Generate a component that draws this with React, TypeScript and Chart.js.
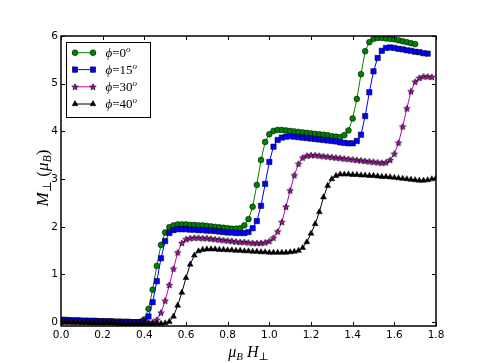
import React, { useEffect, useRef } from 'react';
import { Chart, registerables } from 'chart.js';

Chart.register(...registerables);

// ---------- data ----------
const fieldValues = [
  0, 0.02, 0.04, 0.06, 0.08, 0.1, 0.12, 0.14, 0.16, 0.18,
  0.2, 0.22, 0.24, 0.26, 0.28, 0.3, 0.32, 0.34, 0.36, 0.38,
  0.4, 0.42, 0.44, 0.46, 0.48, 0.5, 0.52, 0.54, 0.56, 0.58,
  0.6, 0.62, 0.64, 0.66, 0.68, 0.7, 0.72, 0.74, 0.76, 0.78,
  0.8, 0.82, 0.84, 0.86, 0.88, 0.9, 0.92, 0.94, 0.96, 0.98,
  1.0, 1.02, 1.04, 1.06, 1.08, 1.1, 1.12, 1.14, 1.16, 1.18,
  1.2, 1.22, 1.24, 1.26, 1.28, 1.3, 1.32, 1.34, 1.36, 1.38,
  1.4, 1.42, 1.44, 1.46, 1.48, 1.5, 1.52, 1.54, 1.56, 1.58,
  1.6, 1.62, 1.64, 1.66, 1.68, 1.7, 1.72, 1.74, 1.76, 1.78,
  1.8,
];

const phi0 = [
  0.04, 0.04, 0.04, 0.03, 0.03, 0.03, 0.03, 0.02, 0.02, 0.02,
  0.02, 0.01, 0.01, 0.01, 0.01, 0.0, 0.0, 0.0, 0.0, 0.01,
  0.06, 0.28, 0.68, 1.18, 1.62, 1.88, 1.99, 2.03, 2.05, 2.05,
  2.05, 2.04, 2.04, 2.03, 2.03, 2.02, 2.01, 2.0, 1.99, 1.98,
  1.97, 1.96, 1.96, 1.97, 2.03, 2.16, 2.42, 2.88, 3.4, 3.78,
  3.94, 4.01, 4.03, 4.03, 4.02, 4.01, 4.0, 3.99, 3.98, 3.97,
  3.96, 3.95, 3.94, 3.93, 3.92, 3.9, 3.89, 3.88, 3.92, 4.02,
  4.27, 4.68, 5.2, 5.68, 5.87, 5.94, 5.96, 5.96, 5.95, 5.94,
  5.93, 5.91, 5.89, 5.87, 5.85, 5.83, null, null, null, null,
  null,
];

const phi15 = [
  0.05, 0.05, 0.04, 0.04, 0.04, 0.03, 0.03, 0.03, 0.03, 0.02,
  0.02, 0.02, 0.02, 0.01, 0.01, 0.01, 0.01, 0.0, 0.0, 0.0,
  0.02, 0.12, 0.42, 0.86, 1.34, 1.7, 1.87, 1.93, 1.95, 1.95,
  1.95, 1.94, 1.94, 1.93, 1.93, 1.92, 1.92, 1.91, 1.9, 1.89,
  1.88, 1.88, 1.87, 1.87, 1.87, 1.89, 1.97, 2.12, 2.44, 2.9,
  3.36, 3.68, 3.82, 3.87, 3.89, 3.9, 3.89, 3.88, 3.87, 3.86,
  3.85, 3.84, 3.83, 3.82, 3.81, 3.8, 3.79, 3.77, 3.76, 3.75,
  3.75, 3.8, 3.93, 4.32, 4.82, 5.26, 5.54, 5.69, 5.75, 5.76,
  5.75, 5.73, 5.72, 5.7, 5.69, 5.67, 5.66, 5.64, 5.63, null,
  null,
];

const phi30 = [
  0.02, 0.02, 0.02, 0.01, 0.01, 0.01, 0.01, 0.01, 0.0, 0.0,
  0.0, 0.0, 0.0, -0.01, -0.01, -0.01, -0.01, -0.01, -0.01, -0.01,
  -0.01, -0.01, 0.0, 0.05, 0.2, 0.45, 0.78, 1.12, 1.46, 1.66,
  1.74, 1.76, 1.77, 1.77, 1.76, 1.76, 1.75, 1.74, 1.73, 1.72,
  1.71, 1.7, 1.69, 1.68, 1.68, 1.67, 1.66, 1.66, 1.66, 1.67,
  1.7, 1.77, 1.9, 2.1, 2.42, 2.76, 3.08, 3.32, 3.45, 3.49,
  3.5, 3.5, 3.49, 3.48, 3.47, 3.46, 3.45, 3.44, 3.43, 3.42,
  3.41, 3.4, 3.39, 3.38, 3.37, 3.36, 3.35, 3.34, 3.35, 3.4,
  3.53, 3.76, 4.1, 4.48, 4.84, 5.04, 5.12, 5.15, 5.15, 5.14,
  null,
];

const phi40 = [
  -0.01, -0.01, -0.01, -0.01, -0.01, -0.02, -0.02, -0.02, -0.02, -0.02,
  -0.02, -0.02, -0.02, -0.02, -0.03, -0.03, -0.03, -0.03, -0.03, -0.03,
  -0.03, -0.03, -0.03, -0.03, -0.03, -0.02, 0.01, 0.12, 0.35, 0.62,
  0.93, 1.21, 1.4, 1.49, 1.52, 1.53, 1.53, 1.53, 1.52, 1.52,
  1.51, 1.51, 1.5, 1.5, 1.49, 1.49, 1.48, 1.48, 1.47, 1.47,
  1.46, 1.46, 1.46, 1.46, 1.46, 1.47, 1.48, 1.5, 1.56, 1.68,
  1.86, 2.06, 2.31, 2.62, 2.86, 3.0, 3.07, 3.1, 3.1, 3.1,
  3.09, 3.09, 3.08, 3.08, 3.07, 3.07, 3.06, 3.05, 3.05, 3.04,
  3.03, 3.02, 3.01, 3.0, 2.99, 2.98, 2.97, 2.97, 2.98, 3.0,
  3.02,
];

const seriesAngles = ['0', '15', '30', '40'];
const xTickValues = [0, 0.2, 0.4, 0.6, 0.8, 1.0, 1.2, 1.4, 1.6, 1.8];
const yTickValues = [0, 1, 2, 3, 4, 5, 6];

// ---------- styles ----------
const GREEN = '#008000';
const BLUE = '#0000ff';
const MAGENTA = '#bf00bf';
const BLACK = '#000000';
const SERIF = "'Liberation Serif', 'DejaVu Serif', serif";

function makeStar(fill: string): HTMLCanvasElement {
  const c = document.createElement('canvas');
  c.width = 10;
  c.height = 10;
  const g = c.getContext('2d')!;
  g.beginPath();
  for (let k = 0; k < 10; k++) {
    const r = k % 2 === 0 ? 3.4 : 1.4;
    const a = -Math.PI / 2 + (k * Math.PI) / 5;
    g.lineTo(5 + r * Math.cos(a), 5.3 + r * Math.sin(a));
  }
  g.closePath();
  g.fillStyle = fill;
  g.fill();
  g.strokeStyle = '#000';
  g.lineWidth = 0.7;
  g.stroke();
  return c;
}

type Part = { t: string; font: string; dy?: number };

function richWidth(ctx: CanvasRenderingContext2D, parts: Part[]) {
  let w = 0;
  for (const p of parts) {
    ctx.font = p.font;
    w += ctx.measureText(p.t).width;
  }
  return w;
}

function drawRich(ctx: CanvasRenderingContext2D, parts: Part[], x: number, y: number) {
  let cx = x;
  for (const p of parts) {
    ctx.font = p.font;
    ctx.fillText(p.t, cx, y + (p.dy || 0));
    cx += ctx.measureText(p.t).width;
  }
}

function toPoints(vals: (number | null)[]) {
  const out: { x: number; y: number }[] = [];
  vals.forEach((v, i) => {
    if (v !== null) out.push({ x: fieldValues[i], y: v });
  });
  return out;
}

export default function App() {
  const ref = useRef<HTMLCanvasElement>(null);

  useEffect(() => {
    if (!ref.current) return;
    const star = makeStar(MAGENTA);

    const markerDefs = [
      { color: GREEN, style: 'circle' as any, radius: 2.9 },
      { color: BLUE, style: 'rect' as any, radius: 3.8 },
      { color: MAGENTA, style: star as any, radius: 4 },
      { color: BLACK, style: 'triangle' as any, radius: 3.4 },
    ];
    const allSeries = [phi0, phi15, phi30, phi40];

    const datasets = allSeries.map((vals, i) => ({
      label: 'phi=' + seriesAngles[i],
      data: toPoints(vals),
      borderColor: markerDefs[i].color,
      backgroundColor: markerDefs[i].color,
      borderWidth: 1,
      pointStyle: markerDefs[i].style,
      pointRadius: markerDefs[i].radius,
      pointBackgroundColor: markerDefs[i].color,
      pointBorderColor: '#000',
      pointBorderWidth: 0.5,
      tension: 0,
      order: 3 - i,
    }));

    const decor = {
      id: 'decor',
      afterDatasetsDraw(chart: any) {
        const ctx: CanvasRenderingContext2D = chart.ctx;
        const { left, right, top, bottom } = chart.chartArea;
        const xs = chart.scales.x;
        const ys = chart.scales.y;
        ctx.save();
        // inward ticks on all sides
        ctx.strokeStyle = '#000';
        ctx.lineWidth = 1;
        ctx.beginPath();
        for (const v of xTickValues) {
          const px = Math.round(xs.getPixelForValue(v)) + 0.5;
          ctx.moveTo(px, bottom);
          ctx.lineTo(px, bottom - 4);
          ctx.moveTo(px, top);
          ctx.lineTo(px, top + 4);
        }
        for (const v of yTickValues) {
          const py = Math.round(ys.getPixelForValue(v)) + 0.5;
          ctx.moveTo(left, py);
          ctx.lineTo(left + 4, py);
          ctx.moveTo(right, py);
          ctx.lineTo(right - 4, py);
        }
        ctx.stroke();
        // frame
        ctx.lineWidth = 1.5;
        ctx.strokeRect(left, top, right - left, bottom - top);

        // legend
        const lx = left + 5.5, ly = top + 6.5, lw = 84, lh = 75;
        ctx.fillStyle = '#fff';
        ctx.fillRect(lx, ly, lw, lh);
        ctx.lineWidth = 1;
        ctx.strokeStyle = '#000';
        ctx.strokeRect(lx, ly, lw, lh);
        const rowY = [52.7, 69.6, 86.8, 104];
        markerDefs.forEach((m, i) => {
          const yy = rowY[i];
          const x1 = 75, x2 = 93;
          ctx.strokeStyle = m.color;
          ctx.lineWidth = 1;
          ctx.beginPath();
          ctx.moveTo(x1, yy);
          ctx.lineTo(x2, yy);
          ctx.stroke();
          for (const mx of [x1, x2]) {
            ctx.fillStyle = m.color;
            ctx.strokeStyle = '#000';
            ctx.lineWidth = 0.5;
            if (i === 0) {
              ctx.beginPath();
              ctx.arc(mx, yy, 2.9, 0, Math.PI * 2);
              ctx.fill();
              ctx.stroke();
            } else if (i === 1) {
              ctx.fillRect(mx - 2.7, yy - 2.7, 5.4, 5.4);
              ctx.strokeRect(mx - 2.7, yy - 2.7, 5.4, 5.4);
            } else if (i === 2) {
              ctx.drawImage(star, mx - 5, yy - 5);
            } else {
              ctx.beginPath();
              ctx.moveTo(mx, yy - 3.4);
              ctx.lineTo(mx + 2.95, yy + 1.7);
              ctx.lineTo(mx - 2.95, yy + 1.7);
              ctx.closePath();
              ctx.fill();
              ctx.stroke();
            }
          }
          ctx.fillStyle = '#000';
          ctx.textAlign = 'left';
          ctx.textBaseline = 'alphabetic';
          drawRich(
            ctx,
            [
              { t: '\u03D5', font: `italic 13px ${SERIF}` },
              { t: '=', font: `13px ${SERIF}` },
              { t: seriesAngles[i], font: `13px ${SERIF}` },
              { t: 'o', font: `italic 9px ${SERIF}`, dy: -5 },
            ],
            105.5,
            yy + 4
          );
        });

        // axis titles
        ctx.fillStyle = '#000';
        ctx.textAlign = 'left';
        ctx.textBaseline = 'alphabetic';
        const xt: Part[] = [
          { t: '\u03BC', font: `italic 16px ${SERIF}` },
          { t: 'B', font: `italic 11px ${SERIF}`, dy: 3 },
          { t: ' ', font: `16px ${SERIF}` },
          { t: 'H', font: `italic 16px ${SERIF}` },
          { t: '\u22A5', font: `11px ${SERIF}`, dy: 3 },
        ];
        const xw = richWidth(ctx, xt);
        drawRich(ctx, xt, (left + right) / 2 - xw / 2, 357);

        const yt: Part[] = [
          { t: 'M', font: `italic 17px ${SERIF}` },
          { t: '\u22A5', font: `12px ${SERIF}`, dy: 3 },
          { t: ' (', font: `17px ${SERIF}` },
          { t: '\u03BC', font: `italic 17px ${SERIF}` },
          { t: 'B', font: `italic 12px ${SERIF}`, dy: 3 },
          { t: ')', font: `17px ${SERIF}` },
        ];
        const yw = richWidth(ctx, yt);
        ctx.translate(48, (top + bottom) / 2 - 3);
        ctx.rotate(-Math.PI / 2);
        drawRich(ctx, yt, -yw / 2, 0);
        ctx.restore();
      },
    };

    const tickFont = { family: "'DejaVu Sans', sans-serif", size: 10.5 };

    const chart = new Chart(ref.current, {
      type: 'line',
      data: { datasets: datasets as any },
      options: {
        animation: false,
        responsive: false,
        events: [],
        layout: { padding: { top: 36, right: 49, left: 0, bottom: 0 } },
        plugins: {
          legend: { display: false },
          tooltip: { enabled: false },
        },
        scales: {
          x: {
            type: 'linear',
            min: 0,
            max: 1.8,
            afterBuildTicks: (s: any) => {
              s.ticks = xTickValues.map((v) => ({ value: v }));
            },
            afterFit: (s: any) => {
              s.height = 37;
            },
            ticks: {
              font: tickFont,
              color: '#000',
              padding: 3,
              maxRotation: 0,
              autoSkip: false,
              callback: (v: any) => Number(v).toFixed(1),
            },
            grid: { display: false, drawTicks: false },
            border: { display: false },
          },
          y: {
            type: 'linear',
            min: -0.08,
            max: 6,
            afterBuildTicks: (s: any) => {
              s.ticks = yTickValues.map((v) => ({ value: v }));
            },
            afterFit: (s: any) => {
              s.width = 61;
            },
            ticks: {
              font: tickFont,
              color: '#000',
              padding: 3,
              autoSkip: false,
              callback: (v: any) => String(v),
            },
            grid: { display: false, drawTicks: false },
            border: { display: false },
          },
        },
      },
      plugins: [decor],
    });

    return () => chart.destroy();
  }, []);

  return (
    <div style={{ position: 'fixed', left: 0, top: 0, width: 485, height: 363, background: '#fff' }}>
      <canvas ref={ref} width={485} height={363} style={{ display: 'block', width: 485, height: 363 }} />
    </div>
  );
}
